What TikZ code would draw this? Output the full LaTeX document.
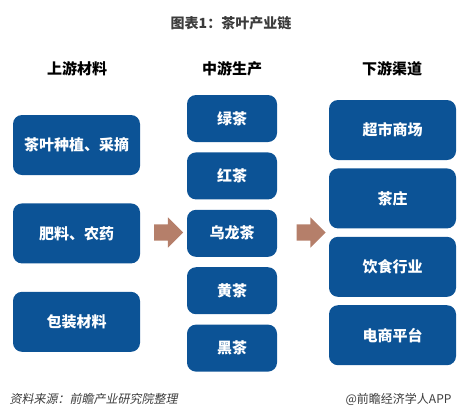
\documentclass[tikz,border=0pt]{standalone}
\usepackage{fontspec}
\newfontfamily\cjk{Noto Sans CJK SC}
\newfontfamily\cjkit[FakeSlant=0.2]{Noto Sans CJK SC}
\usetikzlibrary{positioning,shapes.arrows}
\definecolor{boxblue}{RGB}{12,83,150}
\definecolor{arrowbrown}{RGB}{181,127,106}
\definecolor{footgrey}{RGB}{60,60,60}
\begin{document}
\begin{tikzpicture}[x=1pt, y=-1pt, font=\cjk,
	up/.style = {fill=boxblue, text=white, rounded corners=9pt, minimum width=127pt, minimum height=60pt, font=\cjk\bfseries\fontsize{15}{18}\selectfont},
	mid/.style = {up, minimum width=90pt, minimum height=47pt},
	down/.style = {up},
	head/.style = {font=\cjk\bfseries\fontsize{15}{18}\selectfont},
	flow/.style = {single arrow, fill=arrowbrown, inner xsep=0pt, inner ysep=8pt, single arrow head extend=7pt, minimum height=29pt}]
	\useasboundingbox (0,0) rectangle (462,418);
	% title and column heads
	\node (title) at (231,23) [font=\cjk\bfseries\fontsize{14}{16}\selectfont, text=footgrey] {图表1：茶叶产业链};
	\node[head] (h1) at (77,69) {上游材料};
	\node[head] (h2) at (232,69) {中游生产};
	\node[head] (h3) at (392,69) {下游渠道};
	% upstream
	\node[up] (u1) at (76.5,145) {茶叶种植、采摘};
	\node[up] (u2) [below=28pt of u1] {肥料、农药};
	\node[up] (u3) [below=28pt of u2] {包装材料};
	% midstream
	\node[mid] (m1) at (232,118.5) {绿茶};
	\node[mid] (m2) [below=10pt of m1] {红茶};
	\node[mid] (m3) [below=10pt of m2] {乌龙茶};
	\node[mid] (m4) [below=10pt of m3] {黄茶};
	\node[mid] (m5) [below=10pt of m4] {黑茶};
	% downstream
	\node[down] (d1) at (392.5,130) {超市商场};
	\node[down] (d2) [below=8pt of d1] {茶庄};
	\node[down] (d3) [below=8pt of d2] {饮食行业};
	\node[down] (d4) [below=8pt of d3] {电商平台};
	% arrows
	\node[flow] (a1) at (164.5,232.5) {};
	\node[flow] (a2) at (307,232.5) {};
	% footer
	\node (src) [anchor=west, text=footgrey, font=\cjkit\fontsize{12}{14}\selectfont] at (6,399) {资料来源：前瞻产业研究院整理};
	\node (app) [anchor=east, text=footgrey, font=\cjk\fontsize{12}{14}\selectfont] at (455,399) {@前瞻经济学人APP};
\end{tikzpicture}
\end{document}
